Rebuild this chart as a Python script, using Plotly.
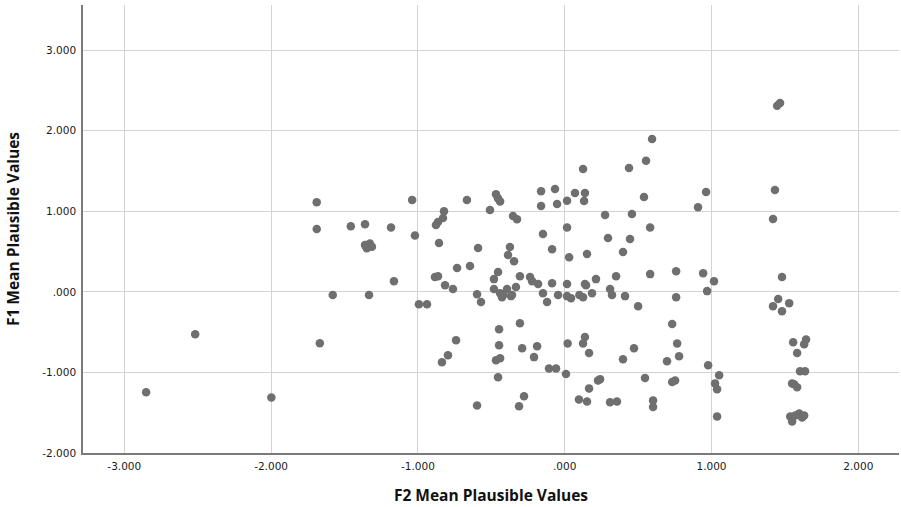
import plotly.graph_objects as go

# F2 Mean Plausible Values (x) and F1 Mean Plausible Values (y)
f2_values = [
    -2.851, -2.517, -1.998, -1.689, -1.689, -1.668, -1.580, -1.457, -1.360,
    -1.360, -1.327, -1.348, -1.313, -1.333, -1.183, -1.163, -1.039, -1.020,
    -0.993, -0.938,
    -0.666, -0.468, -0.440, -0.454, -0.161, -0.066, -0.161, -0.052, 0.016,
    -0.822, -0.509, -0.829, -0.863, -0.877, -0.352, -0.325, 0.016, -0.856,
    -0.148, -0.590, -0.373, -0.386, -0.345, -0.086, 0.030,
    -0.733, -0.645, -0.884, -0.863, -0.815, -0.761, -0.454, -0.482, -0.305,
    -0.236, -0.222, -0.181, -0.086, 0.016, -0.597, -0.482, -0.440, -0.393,
    -0.359, -0.332, -0.420, -0.148, -0.045, 0.016, -0.570, -0.427, -0.366,
    -0.120, 0.043, 0.125, 0.145, 0.186, 0.213, 0.152,
    -0.740, -0.795, -0.836, -0.447, -0.447, -0.468, -0.440, -0.454, -0.305,
    -0.290, -0.188, -0.209, -0.107, -0.059, 0.009, -0.597, -0.311, -0.277,
    0.020, 0.125, 0.138, 0.166, 0.097, 0.152, 0.166, 0.227,
    0.595, 0.554, 0.125, 0.438, 0.070, 0.138, 0.132, 0.540, 0.963, 0.908,
    0.275, 0.458, 0.582, 0.295, 0.445, 0.397, 0.350, 0.582, 0.759, 0.943,
    0.138, 0.309, 0.322, 0.411, 0.100, 0.759, 0.970,
    0.500, 0.732, 0.472, 0.397, 0.766, 0.697, 0.779, 0.977, 0.241, 0.547,
    0.732, 0.752, 0.309, 0.356, 0.602, 0.602,
    1.467, 1.447, 1.432, 1.419, 1.480, 1.017, 1.454, 1.419, 1.529, 1.480,
    1.052, 1.024, 1.038, 1.038,
    1.556, 1.644, 1.631, 1.583, 1.603, 1.637, 1.549, 1.563, 1.583,
    1.536, 1.549, 1.597, 1.617, 1.631, 1.570,
]
f1_values = [
    -1.246, -0.525, -1.310, 1.113, 0.780, -0.638, -0.040, 0.815, 0.840,
    0.580, 0.600, 0.540, 0.560, -0.040, 0.800, 0.133, 1.140, 0.700,
    -0.153, -0.153,
    1.140, 1.210, 1.120, 1.160, 1.250, 1.277, 1.066, 1.090, 1.130,
    1.000, 1.016, 0.916, 0.867, 0.830, 0.940, 0.900, 0.800, 0.606,
    0.718, 0.543, 0.556, 0.456, 0.380, 0.530, 0.430,
    0.295, 0.320, 0.183, 0.195, 0.083, 0.034, 0.245, 0.158, 0.195,
    0.183, 0.133, 0.096, 0.108, 0.096, -0.030, 0.034, -0.016, 0.034,
    -0.040, 0.059, -0.040, -0.016, -0.040, -0.053, -0.127, -0.066, -0.053,
    -0.127, -0.078, -0.066, 0.083, -0.016, 0.158, 0.470,
    -0.600, -0.787, -0.875, -0.464, -0.663, -0.850, -0.825, -1.060, -0.390,
    -0.700, -0.675, -0.810, -0.950, -0.950, -1.020, -1.410, -1.420, -1.297,
    -0.640, -0.640, -0.560, -0.760, -1.335, -1.360, -1.198, -1.100,
    1.897, 1.626, 1.526, 1.538, 1.228, 1.228, 1.128, 1.178, 1.240, 1.050,
    0.954, 0.966, 0.800, 0.668, 0.655, 0.494, 0.195, 0.220, 0.257, 0.232,
    0.096, 0.034, -0.040, -0.053, -0.040, -0.066, 0.009,
    -0.178, -0.400, -0.700, -0.837, -0.640, -0.860, -0.800, -0.910, -1.086,
    -1.070, -1.120, -1.100, -1.370, -1.360, -1.347, -1.430,
    2.345, 2.310, 1.265, 0.904, 0.183, 0.133, -0.090, -0.178, -0.140, -0.240,
    -1.036, -1.136, -1.210, -1.546,
    -0.626, -0.590, -0.650, -0.760, -0.986, -0.986, -1.136, -1.148, -1.185,
    -1.546, -1.608, -1.510, -1.560, -1.534, -1.534,
]

x_tick_vals = [-3, -2, -1, 0, 1, 2]
x_tick_text = ["-3.000", "-2.000", "-1.000", ".000", "1.000", "2.000"]
y_tick_vals = [-2, -1, 0, 1, 2, 3]
y_tick_text = ["-2.000", "-1.000", ".000", "1.000", "2.000", "3.000"]

fig = go.Figure()
fig.add_trace(go.Scatter(
    x=f2_values, y=f1_values, mode="markers",
    marker=dict(size=8.5, color="#6f6f6f", line=dict(width=0)),
    showlegend=False, hoverinfo="x+y",
))

grid = "#d3d3d3"
fig.update_layout(
    width=901, height=507,
    margin=dict(l=83, r=2, t=5, b=54),
    paper_bgcolor="white", plot_bgcolor="white",
    font=dict(family="DejaVu Sans", size=10, color="#222222"),
    xaxis=dict(
        range=[-3.281, 2.277], automargin=False,
        tickvals=x_tick_vals, ticktext=x_tick_text,
        showgrid=True, gridcolor=grid, gridwidth=1, zeroline=False,
        showline=True, linecolor="#7a7a7a", linewidth=1.5,
        ticks="outside", ticklen=3, tickcolor="rgba(0,0,0,0)",
        tickfont=dict(family="DejaVu Sans", size=10.5, color="#1a1a1a"),
        title=dict(text="F2 Mean Plausible Values",
                   font=dict(family="Open Sans", size=15.5, color="#111111", weight="bold"),
                   standoff=19),
    ),
    yaxis=dict(
        range=[-2.0, 3.56], automargin=False,
        tickvals=y_tick_vals, ticktext=y_tick_text,
        showgrid=True, gridcolor=grid, gridwidth=1, zeroline=False,
        showline=True, linecolor="#7a7a7a", linewidth=1.5,
        ticks="outside", ticklen=3, tickcolor="rgba(0,0,0,0)",
        tickfont=dict(family="DejaVu Sans", size=10.5, color="#1a1a1a"),
        title=dict(text="F1 Mean Plausible Values",
                   font=dict(family="Open Sans", size=15.5, color="#111111", weight="bold"),
                   standoff=19),
    ),
)

fig.write_html(
    "out.html",
    config={"displayModeBar": False},
    post_script="document.body.style.margin='0';document.body.style.padding='0';",
)
